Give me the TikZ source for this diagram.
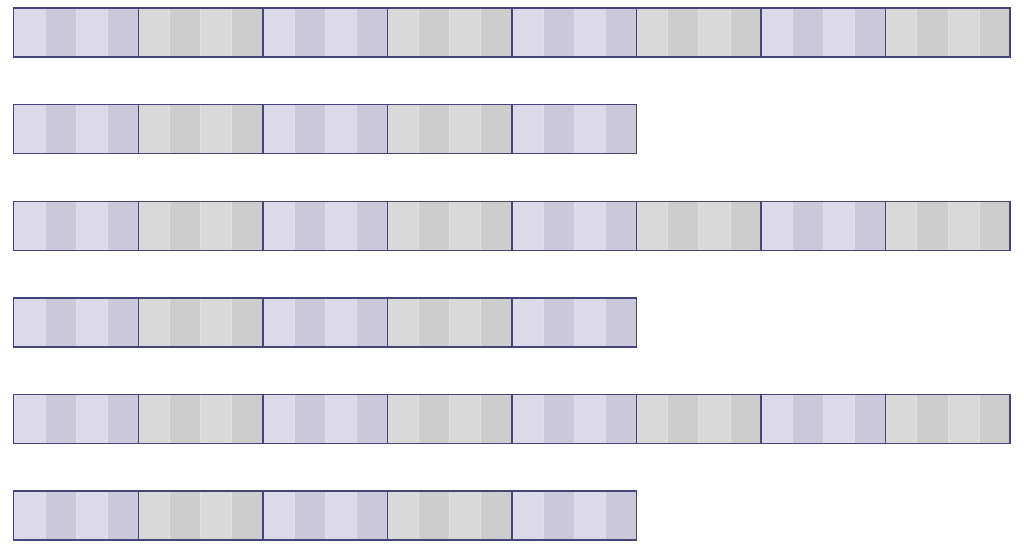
\documentclass[tikz,border=0pt]{standalone}
\definecolor{pl}{HTML}{DCDAE8}
\definecolor{pd}{HTML}{CBC8DC}
\definecolor{gl}{HTML}{D9D9D9}
\definecolor{gd}{HTML}{CDCDCD}
\definecolor{edgec}{HTML}{45457A}
\begin{document}
\begin{tikzpicture}[x=1pt,y=-1pt,
  stripe/.style={line width=0.6pt},
  blockbox/.style={draw=edgec,line width=1.4pt}]
\useasboundingbox (0,0) rectangle (1024,548);
\fill[white] (0,0) rectangle (1024,548);
\foreach \r/\n in {0/8,1/5,2/8,3/5,4/8,5/5} {
  \pgfmathsetmacro\toprow{8+96.6*\r}
  \pgfmathsetmacro\botrow{\toprow+49}
  \pgfmathtruncatemacro\m{\n-1}
  \foreach \b in {0,...,\m} {
    \pgfmathtruncatemacro\odd{mod(\b,2)}
    \ifnum\odd=0 \def\cl{pl}\def\cd{pd}\else \def\cl{gl}\def\cd{gd}\fi
    \pgfmathsetmacro\xl{13.7+124.55*\b}
    \foreach \s in {0,1,2,3} {
      \pgfmathtruncatemacro\so{mod(\s,2)}
      \pgfmathsetmacro\sx{\xl+31.1375*\s}
      \pgfmathsetmacro\sxe{\sx+31.1375}
      \ifnum\so=0
        \filldraw[stripe,fill=\cl,draw=white!40!\cd] (\sx,\toprow) rectangle (\sxe,\botrow);
      \else
        \filldraw[stripe,fill=\cd,draw=white!40!\cd] (\sx,\toprow) rectangle (\sxe,\botrow);
      \fi
    }
    \pgfmathsetmacro\xr{\xl+124.55}
    \draw[blockbox] (\xl,\toprow) rectangle (\xr,\botrow);
  }
}
\end{tikzpicture}
\end{document}
